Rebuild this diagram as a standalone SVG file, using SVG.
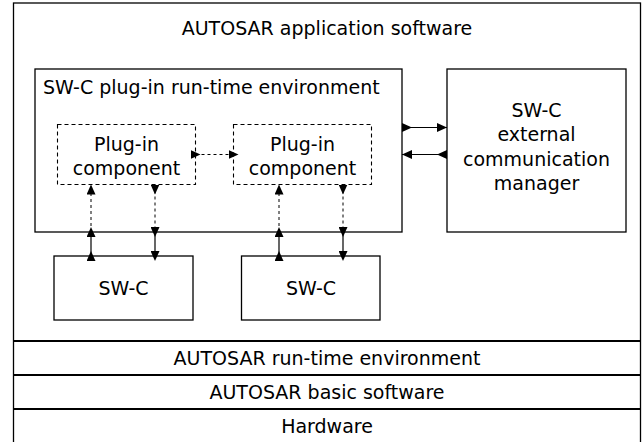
<svg xmlns="http://www.w3.org/2000/svg" width="642" height="442" viewBox="0 0 642 442">
<style>
  .box{fill:#fff;stroke:#000;stroke-width:1.3}
  .dbox{fill:#fff;stroke:#000;stroke-width:1.1;stroke-dasharray:4 3}
  .sep{stroke:#000;stroke-width:2}
  .t{font-family:"DejaVu Sans","Open Sans",sans-serif;font-size:19px;fill:#000}
  .c{text-anchor:middle}
  .solid{stroke:#000;stroke-width:1.2;fill:none}
  .dash{stroke:#000;stroke-width:1;stroke-dasharray:3 3;fill:none}
</style>
<defs>
  <marker id="hs" viewBox="0 0 10 9" refX="0" refY="4.5" markerWidth="10" markerHeight="9" markerUnits="userSpaceOnUse" orient="auto"><path d="M0,0 L10,4.5 L0,9 z" fill="#000"/></marker>
  <marker id="ht" viewBox="0 0 10 9" refX="10" refY="4.5" markerWidth="10" markerHeight="9" markerUnits="userSpaceOnUse" orient="auto"><path d="M0,0 L10,4.5 L0,9 z" fill="#000"/></marker>
  <marker id="hc" viewBox="0 0 10 9" refX="5" refY="4.5" markerWidth="10" markerHeight="9" markerUnits="userSpaceOnUse" orient="auto"><path d="M0,0 L10,4.5 L0,9 z" fill="#000"/></marker>
</defs>
<rect width="642" height="442" fill="#fff"/>
<g id="app">
  <rect class="box" x="13.5" y="3" width="627" height="442"/>
  <text class="t c" x="327" y="35">AUTOSAR application software</text>
</g>
<g id="layers">
  <line class="sep" x1="13" y1="341" x2="641" y2="341"/>
  <line class="sep" x1="13" y1="375" x2="641" y2="375"/>
  <line class="sep" x1="13" y1="409" x2="641" y2="409"/>
</g>
<g id="rte-layer"><text class="t c" x="327" y="365">AUTOSAR run-time environment</text></g>
<g id="bsw-layer"><text class="t c" x="327" y="399">AUTOSAR basic software</text></g>
<g id="hw-layer"><text class="t c" x="327" y="432.5">Hardware</text></g>
<g id="plugin-rte">
  <rect class="box" x="35" y="69" width="367" height="163"/>
  <text class="t" x="43" y="94">SW-C plug-in run-time environment</text>
</g>
<g id="plugin1">
  <rect class="dbox" x="57.5" y="124.5" width="138" height="60"/>
  <text class="t c" x="126.5" y="151">Plug-in</text>
  <text class="t c" x="126.5" y="175">component</text>
</g>
<g id="plugin2">
  <rect class="dbox" x="233.5" y="124.5" width="138" height="60"/>
  <text class="t c" x="302.5" y="151">Plug-in</text>
  <text class="t c" x="302.5" y="175">component</text>
</g>
<g id="ext">
  <rect class="box" x="447" y="69" width="179" height="163"/>
  <text class="t c" x="536.5" y="117">SW-C</text>
  <text class="t c" x="536.5" y="141">external</text>
  <text class="t c" x="536.5" y="165.5">communication</text>
  <text class="t c" x="536.5" y="190">manager</text>
</g>
<g id="swc1">
  <rect class="box" x="54" y="256" width="139" height="64"/>
  <text class="t c" x="123.5" y="295">SW-C</text>
</g>
<g id="swc2">
  <rect class="box" x="241.5" y="256" width="138.5" height="64"/>
  <text class="t c" x="311" y="295">SW-C</text>
</g>
<g id="connectors">
  <line class="solid" x1="402" y1="127.5" x2="447" y2="127.5" marker-start="url(#hs)" marker-end="url(#ht)"/>
  <line class="solid" x1="447" y1="154.5" x2="402" y2="154.5" marker-start="url(#hs)" marker-end="url(#ht)"/>
  <line class="dash" x1="195.5" y1="154.5" x2="233.5" y2="154.5" marker-start="url(#hc)" marker-end="url(#hc)"/>
  <line class="dash" x1="91" y1="232" x2="91" y2="184.5" marker-start="url(#hc)" marker-end="url(#ht)"/>
  <line class="solid" x1="91" y1="256" x2="91" y2="232" marker-start="url(#hc)"/>
  <line class="dash" x1="155" y1="184.5" x2="155" y2="232" marker-start="url(#hs)" marker-end="url(#hc)"/>
  <line class="solid" x1="155" y1="232" x2="155" y2="256" marker-end="url(#hc)"/>
  <line class="dash" x1="279" y1="232" x2="279" y2="184.5" marker-start="url(#hc)" marker-end="url(#ht)"/>
  <line class="solid" x1="279" y1="256" x2="279" y2="232" marker-start="url(#hc)"/>
  <line class="dash" x1="343" y1="184.5" x2="343" y2="232" marker-start="url(#hs)" marker-end="url(#hc)"/>
  <line class="solid" x1="343" y1="232" x2="343" y2="256" marker-end="url(#hc)"/>
</g>
</svg>
